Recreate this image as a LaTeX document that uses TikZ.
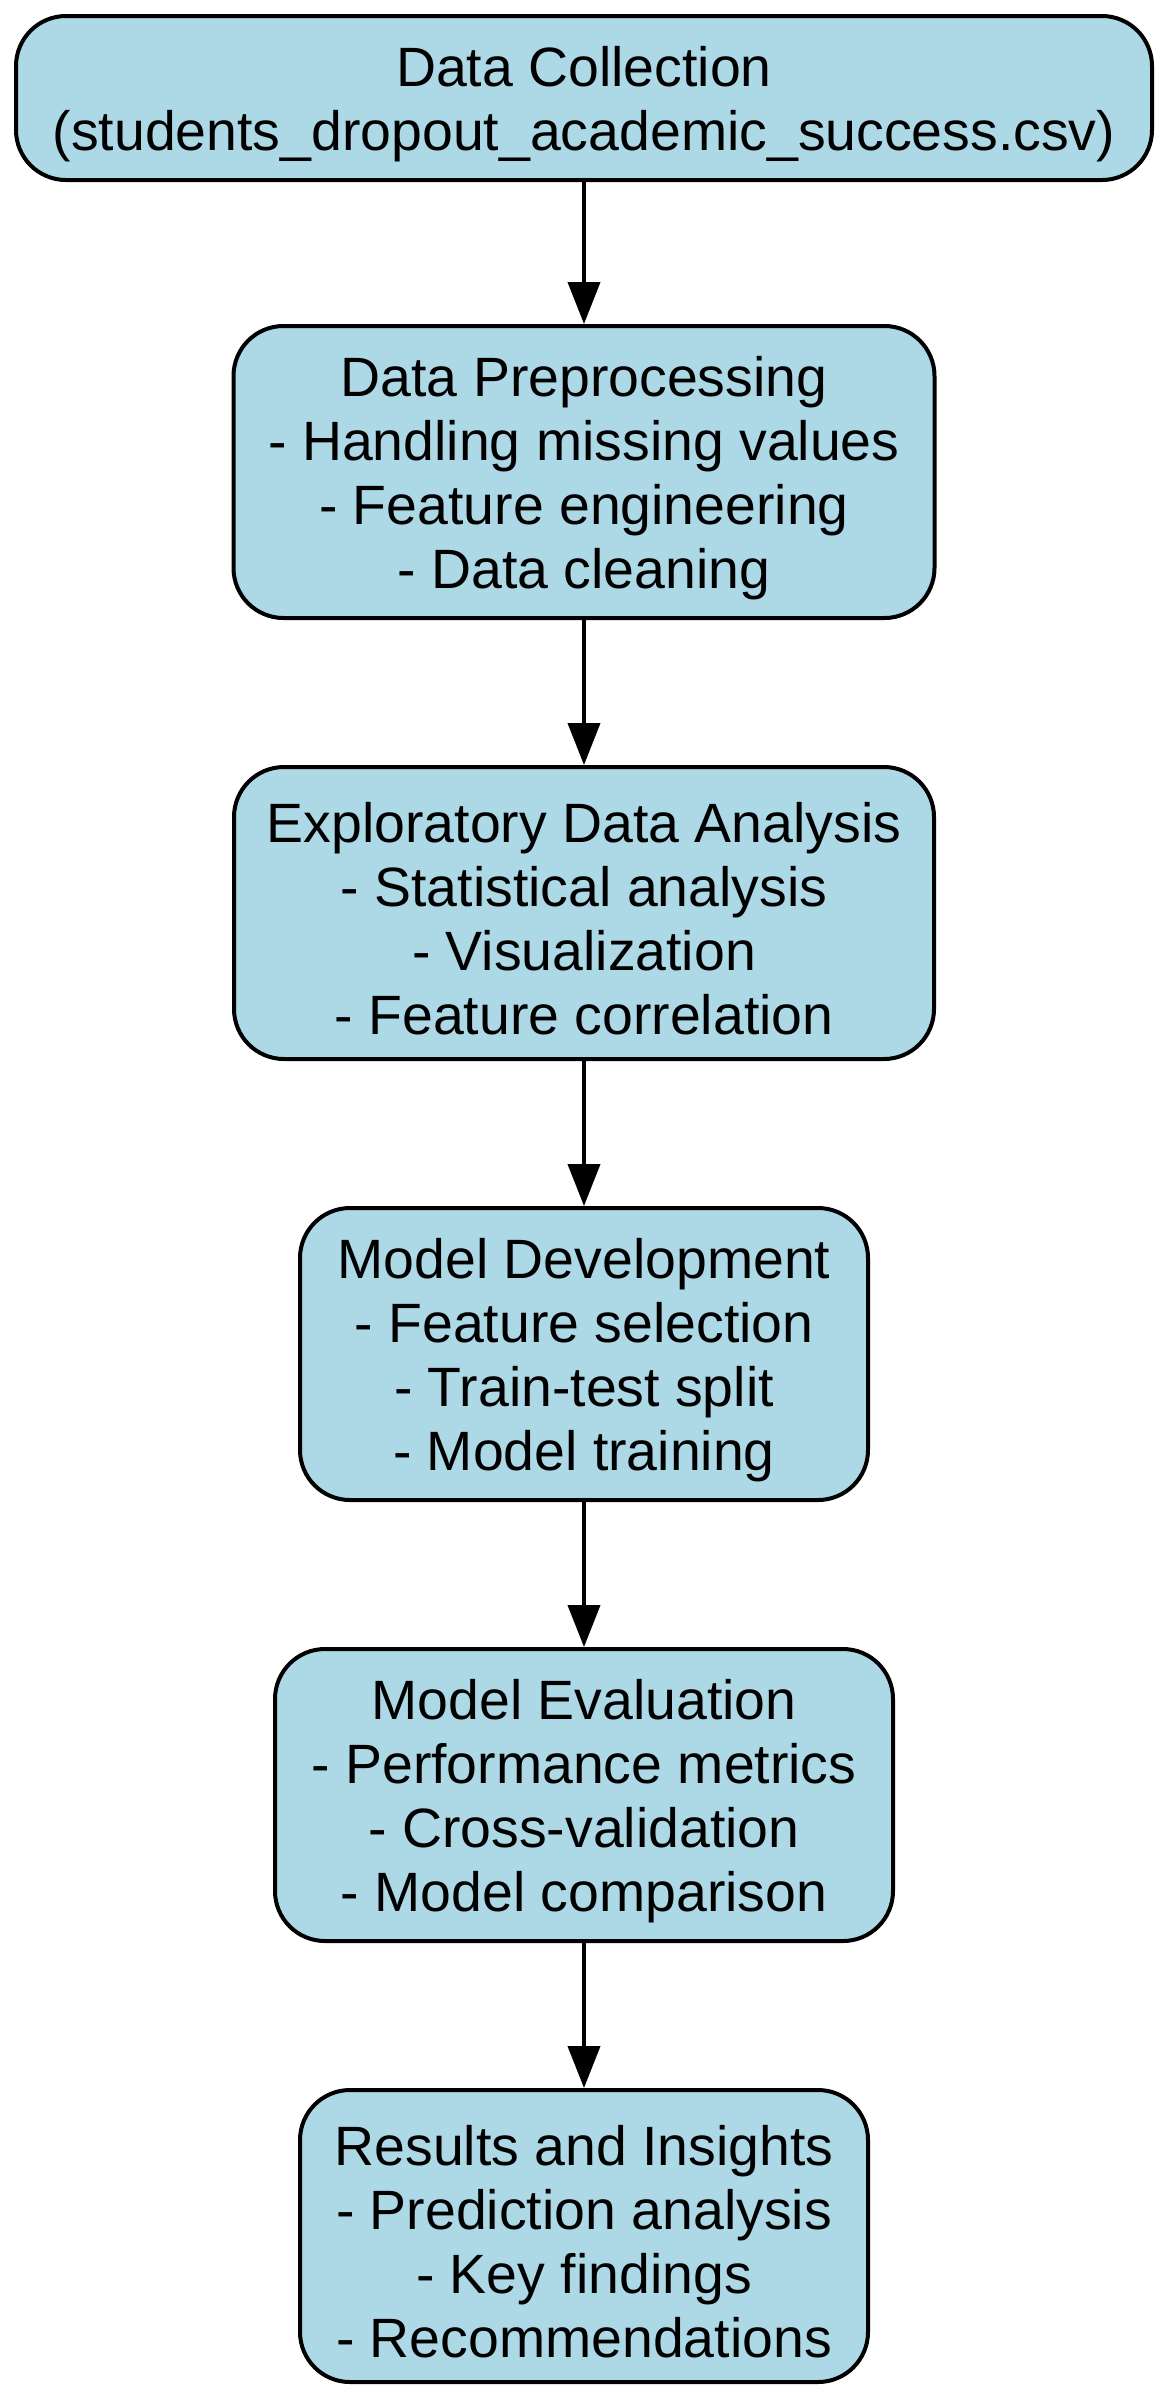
\documentclass[tikz,border=0pt]{standalone}
\usepackage{fontspec}
\setmainfont{Liberation Sans}
\usetikzlibrary{arrows.meta}
\definecolor{boxblue}{RGB}{173,216,230}
\newcommand{\tstrut}{\rule{0pt}{13pt}}
\begin{document}
\begin{tikzpicture}[x=0.25pt,y=-0.25pt,
  stagebox/.style={draw=black, line width=1pt, fill=boxblue, rounded corners=12.5pt,
    align=center, inner sep=0pt, minimum height=73pt, font=\fontsize{13.85}{16}\selectfont},
  flow/.style={draw=black, line width=1pt, -{Triangle[length=10.5pt,width=8pt]}}]
\useasboundingbox (0,0) rectangle (1168,2400);
\node[stagebox, minimum width=284pt, minimum height=41pt] (n1) at (584,98)
  {\tstrut Data Collection\\(students\_dropout\_academic\_success.csv)};
\node[stagebox, minimum width=175.25pt] (n2) at (584,472)
  {\tstrut Data Preprocessing\\- Handling missing values\\- Feature engineering\\- Data cleaning};
\node[stagebox, minimum width=175pt] (n3) at (584,913)
  {\tstrut Exploratory Data Analysis\\- Statistical analysis\\- Visualization\\- Feature correlation};
\node[stagebox, minimum width=142pt] (n4) at (584,1354)
  {\tstrut Model Development\\- Feature selection\\- Train-test split\\- Model training};
\node[stagebox, minimum width=154.5pt] (n5) at (584,1795)
  {\tstrut Model Evaluation\\- Performance metrics\\- Cross-validation\\- Model comparison};
\node[stagebox, minimum width=142pt] (n6) at (584,2236)
  {\tstrut Results and Insights\\- Prediction analysis\\- Key findings\\- Recommendations};
\draw[flow] (n1) -- (n2);
\draw[flow] (n2) -- (n3);
\draw[flow] (n3) -- (n4);
\draw[flow] (n4) -- (n5);
\draw[flow] (n5) -- (n6);
\end{tikzpicture}
\end{document}
